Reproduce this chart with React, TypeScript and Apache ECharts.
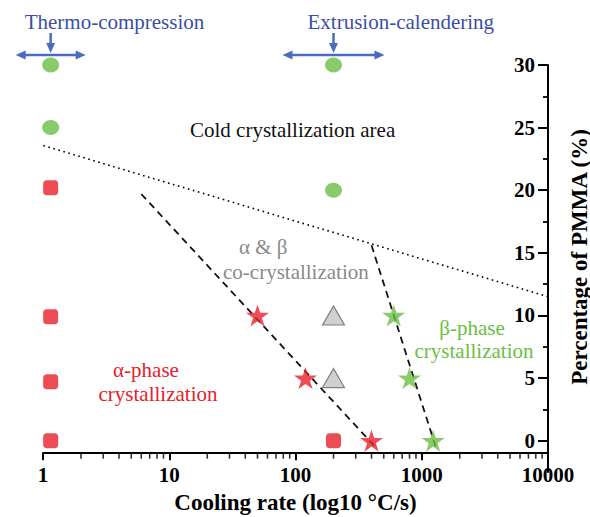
import React, { useEffect, useRef } from "react";
import * as echarts from "echarts";

// ---- data ----
const xMajorTicks = [1, 10, 100, 1000, 10000];
const xMinorTicks = [
  2, 3, 4, 5, 6, 7, 8, 9,
  20, 30, 40, 50, 60, 70, 80, 90,
  200, 300, 400, 500, 600, 700, 800, 900,
  2000, 3000, 4000, 5000, 6000, 7000, 8000, 9000,
];
const xAxisLevel = -1; // the x axis line crosses the PMMA axis at -1 %
const yMajorTicks = [0, 5, 10, 15, 20, 25, 30];
const yMinorTicks = [2.5, 7.5, 12.5, 17.5, 22.5, 27.5];

const redSquares = [[1.15, 20.2], [1.15, 9.9], [1.15, 4.7], [1.15, 0], [200, 0]];
const greenCircles = [[1.15, 30], [1.15, 25], [200, 30], [200, 20]];
const redStars = [[50, 10], [120, 5], [400, 0]];
const greenStars = [[600, 10], [800, 5], [1230, 0]];
const greyTriangles = [[200, 10], [200, 5]];
const alphaBoundary = [[6, 19.7], [420, -0.4]];
const betaBoundary = [[400, 15.6], [1300, -0.6]];
const coldBoundary = [[0.84, 23.8], [10000, 11.5]];

const processes = [
  { name: "Thermo-compression", x: 1.15, half: 35 },
  { name: "Extrusion-calendering", x: 200, half: 51 },
];

const SERIF = "'Liberation Serif', 'Times New Roman', serif";
const RED = "#e8202a";
const GREEN = "#6cbe45";
const BLUE_TEXT = "#3b4fa6";
const BLUE_ARROW = "#4a6cc0";
const STAR =
  "path://M50,0 L61.2,34.5 L97.6,34.5 L68.2,55.9 L79.4,90.5 L50,69.1 L20.6,90.5 L31.8,55.9 L2.4,34.5 L38.8,34.5 Z";

export default function App() {
  const ref = useRef<HTMLDivElement>(null);

  useEffect(() => {
    if (!ref.current) return;
    const chart = echarts.init(ref.current, undefined, { renderer: "svg" });

    const boldLabel = {
      fontFamily: SERIF,
      fontWeight: "bold" as const,
      fontSize: 21,
      color: "#000",
    };

    const option: any = {
      animation: false,
      backgroundColor: "#fff",
      grid: {
        left: 43,
        right: 42,
        top: 65,
        bottom: 45,
        containLabel: false,
        outerBoundsMode: "none",
      },
      xAxis: [
        {
          type: "log",
          logBase: 10,
          min: 1,
          max: 10000,
          position: "bottom",
          axisLine: { show: true, onZero: true, onZeroAxisIndex: 2, lineStyle: { color: "#000", width: 2 } },
          axisTick: { show: true, length: 7, customValues: xMajorTicks, lineStyle: { color: "#000", width: 2 } },
          axisLabel: {
            ...boldLabel,
            margin: -8,
            customValues: xMajorTicks,
            formatter: (v: number) => String(Math.round(v)),
          },
          splitLine: { show: false },
          minorTick: { show: false },
          name: "Cooling rate (log10 °C/s)",
          nameLocation: "middle",
          nameGap: 19,
          nameTextStyle: { fontFamily: SERIF, fontWeight: "bold", fontSize: 23, color: "#000" },
        },
      ],
      yAxis: [
        {
          type: "value",
          position: "right",
          min: -2.5,
          max: 30,
          axisLine: { show: true, onZero: false, lineStyle: { color: "#000", width: 2 } },
          axisTick: { show: true, inside: true, length: 10, customValues: yMajorTicks, lineStyle: { color: "#000", width: 2 } },
          axisLabel: { ...boldLabel, inside: true, margin: 13, customValues: yMajorTicks },
          splitLine: { show: false },
        },
        {
          type: "value",
          position: "right",
          min: -2.5,
          max: 30,
          axisLine: { show: false, onZero: false },
          axisTick: { show: true, inside: true, length: 5, customValues: yMinorTicks, lineStyle: { color: "#000", width: 1.8 } },
          axisLabel: { show: false },
          splitLine: { show: false },
        },
        {
          // helper axis: its zero sits at -1 on the main axis, where the x axis line is drawn
          type: "value",
          show: false,
          position: "left",
          min: -1.5,
          max: 31,
          axisLine: { onZero: false },
          splitLine: { show: false },
        },
      ],
      series: [
        {
          name: "Cold crystallization boundary",
          type: "line",
          data: coldBoundary,
          symbol: "none",
          clip: false,
          lineStyle: { color: "#000", width: 1.6, type: [1.6, 3.6] },
          z: 1,
        },
        {
          name: "α boundary",
          type: "line",
          data: alphaBoundary,
          symbol: "none",
          lineStyle: { color: "#111", width: 1.8, type: [7, 5] },
          z: 1,
        },
        {
          name: "β boundary",
          type: "line",
          data: betaBoundary,
          symbol: "none",
          lineStyle: { color: "#111", width: 1.8, type: [7, 5] },
          z: 1,
        },
        {
          name: "x minor ticks",
          type: "scatter",
          data: xMinorTicks.map((v) => [v, xAxisLevel]),
          symbol: "rect",
          symbolSize: [1.6, 5],
          symbolOffset: [0, 3],
          clip: false,
          silent: true,
          itemStyle: { color: "#000" },
          z: 5,
        },
        {
          name: "α-phase",
          type: "scatter",
          data: redSquares,
          symbol: "roundRect",
          symbolSize: 15,
          itemStyle: { color: RED },
          z: 3,
        },
        {
          name: "Cold crystallization",
          type: "scatter",
          data: greenCircles,
          symbol: "circle",
          symbolSize: [17, 15],
          itemStyle: { color: GREEN },
          z: 3,
        },
        {
          name: "α stars",
          type: "scatter",
          data: redStars,
          symbol: STAR,
          symbolSize: [23, 22],
          itemStyle: { color: RED },
          z: 3,
        },
        {
          name: "β stars",
          type: "scatter",
          data: greenStars,
          symbol: STAR,
          symbolSize: [23, 22],
          itemStyle: { color: GREEN },
          z: 3,
        },
        {
          name: "α & β",
          type: "scatter",
          data: greyTriangles,
          symbol: "triangle",
          symbolSize: [22, 19],
          itemStyle: { color: "#c4c4c4", borderColor: "#666", borderWidth: 1.2 },
          z: 3,
        },
      ],
    };

    chart.setOption(option);

    const graphics: any[] = [];
    processes.forEach((p) => {
      const px = chart.convertToPixel({ xAxisIndex: 0, yAxisIndex: 0 }, [p.x, 30]) as number[];
      const cx = px[0];
      const ay = 55;
      graphics.push({
        type: "text",
        x: cx - 26,
        y: 22,
        style: {
          text: p.name,
          fill: BLUE_TEXT,
          font: `21px ${SERIF}`,
          align: "left",
          verticalAlign: "middle",
        },
      });
      graphics.push({
        type: "line",
        shape: { x1: cx - p.half + 6, y1: ay, x2: cx + p.half - 6, y2: ay },
        style: { stroke: BLUE_ARROW, lineWidth: 2.5 },
      });
      graphics.push({
        type: "polygon",
        shape: { points: [[cx - p.half, ay], [cx - p.half + 10, ay - 4.5], [cx - p.half + 10, ay + 4.5]] },
        style: { fill: BLUE_ARROW },
      });
      graphics.push({
        type: "polygon",
        shape: { points: [[cx + p.half, ay], [cx + p.half - 10, ay - 4.5], [cx + p.half - 10, ay + 4.5]] },
        style: { fill: BLUE_ARROW },
      });
      graphics.push({
        type: "line",
        shape: { x1: cx, y1: 33, x2: cx, y2: 45 },
        style: { stroke: BLUE_ARROW, lineWidth: 2.5 },
      });
      graphics.push({
        type: "polygon",
        shape: { points: [[cx, 53], [cx - 4.5, 43], [cx + 4.5, 43]] },
        style: { fill: BLUE_ARROW },
      });
    });

    const txt = (text: string, x: number, y: number, fill: string, size = 21, align = "left") => ({
      type: "text",
      x,
      y,
      style: { text, fill, font: `${size}px ${SERIF}`, align, verticalAlign: "middle" },
      z: 10,
    });

    graphics.push(txt("Cold crystallization area", 190, 130, "#111", 21));
    graphics.push(txt("α & β", 239, 247, "#8a8a8a", 21));
    graphics.push(txt("co-crystallization", 223, 272, "#8a8a8a", 21));
    graphics.push(txt("α-phase", 146, 370, RED, 21, "center"));
    graphics.push(txt("crystallization", 158, 394, RED, 21, "center"));
    graphics.push(txt("β-phase", 472, 328, GREEN, 21, "center"));
    graphics.push(txt("crystallization", 474, 351, GREEN, 21, "center"));
    graphics.push({
      type: "text",
      x: 579,
      y: 257,
      rotation: Math.PI / 2,
      style: {
        text: "Percentage of PMMA (%)",
        fill: "#000",
        font: `bold 23px ${SERIF}`,
        align: "center",
        verticalAlign: "middle",
      },
    });

    chart.setOption({ graphic: graphics });

    return () => chart.dispose();
  }, []);

  return (
    <div
      ref={ref}
      style={{ position: "fixed", left: 0, top: 0, width: 590, height: 517 }}
    />
  );
}
